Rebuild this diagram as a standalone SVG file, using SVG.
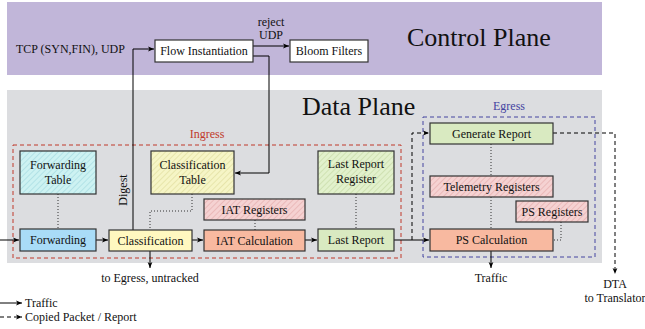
<svg xmlns="http://www.w3.org/2000/svg" width="645" height="329" viewBox="0 0 645 329">
<style>
text{font-family:"Liberation Serif","Times New Roman",serif;fill:#111}
.lbl{font-size:12px;text-anchor:middle}
.big{font-size:26px}
.box{stroke:#333;stroke-width:1.2}
.c{fill:none;stroke:#000;stroke-width:1}
.d{fill:none;stroke:#000;stroke-width:1;stroke-dasharray:4,3}
.dot{fill:none;stroke:#333;stroke-width:1;stroke-dasharray:1,2}
</style>
<defs>
<marker id="ah" viewBox="0 0 6 6" refX="6" refY="3" markerWidth="6" markerHeight="6" orient="auto" markerUnits="userSpaceOnUse"><path d="M0,0.6 L6,3 L0,5.4 L1.5,3 Z" fill="#000"/></marker>
<pattern id="hc" width="4" height="4" patternUnits="userSpaceOnUse" patternTransform="rotate(45)"><rect width="4" height="4" fill="#cdf2f2"/><line x1="0" y1="0" x2="0" y2="4" stroke="#a9dde3" stroke-width="1.5"/></pattern>
<pattern id="hy" width="4" height="4" patternUnits="userSpaceOnUse" patternTransform="rotate(45)"><rect width="4" height="4" fill="#f6f5c6"/><line x1="0" y1="0" x2="0" y2="4" stroke="#e2e0a2" stroke-width="1.5"/></pattern>
<pattern id="hr" width="4" height="4" patternUnits="userSpaceOnUse" patternTransform="rotate(45)"><rect width="4" height="4" fill="#f5d2d2"/><line x1="0" y1="0" x2="0" y2="4" stroke="#e7b1b1" stroke-width="1.5"/></pattern>
<pattern id="hg" width="4" height="4" patternUnits="userSpaceOnUse" patternTransform="rotate(45)"><rect width="4" height="4" fill="#e2f1cc"/><line x1="0" y1="0" x2="0" y2="4" stroke="#c9dca9" stroke-width="1.5"/></pattern>
</defs>

<g id="control-plane">
<rect x="7" y="2" width="595" height="73" fill="#c1b6d9"/>
<text class="big" x="407" y="46">Control Plane</text>
</g>
<g id="data-plane">
<rect x="7" y="90" width="595" height="173" fill="#dcdde0"/>
<text class="big" x="302" y="115">Data Plane</text>
</g>
<g id="ingress">
<rect x="13" y="145" width="388" height="113" fill="none" stroke="#c0392b" stroke-width="1" stroke-dasharray="4,3"/>
<text x="207" y="138" style="font-size:12px;text-anchor:middle;fill:#c0392b">Ingress</text>
</g>
<g id="egress">
<rect x="423" y="117" width="172" height="140" fill="none" stroke="#4444a0" stroke-width="1" stroke-dasharray="4,3"/>
<text x="509" y="110" style="font-size:12px;text-anchor:middle;fill:#4444a0">Egress</text>
</g>

<g id="connectors">
<!-- control -->
<path class="c" d="M133,230 V49 H154" marker-end="url(#ah)"/>
<path class="c" d="M253,46 H289" marker-end="url(#ah)"/>
<path class="c" d="M253,56 H269 V173 H235" marker-end="url(#ah)"/>
<!-- traffic -->
<path class="c" d="M0,240 H19" marker-end="url(#ah)"/>
<path class="c" d="M96,240 H108" marker-end="url(#ah)"/>
<path class="c" d="M192,240 H203" marker-end="url(#ah)"/>
<path class="c" d="M305,240 H317" marker-end="url(#ah)"/>
<path class="c" d="M394,240 H429" marker-end="url(#ah)"/>
<path class="c" d="M150,251 V268" marker-end="url(#ah)"/>
<path class="c" d="M491,251 V268" marker-end="url(#ah)"/>
<!-- copied -->
<path class="d" d="M412,240 V133 H429" marker-end="url(#ah)"/>
<path class="d" d="M553,133 H615 V274" marker-end="url(#ah)"/>
<!-- dotted -->
<path class="dot" d="M58,194 V229"/>
<path class="dot" d="M192,194 V211 H150 V230"/>
<path class="dot" d="M255,220 V230"/>
<path class="dot" d="M356,194 V229"/>
<path class="dot" d="M491,144 V176"/>
<path class="dot" d="M491,197 V229"/>
<path class="dot" d="M561,222 V240 H553"/>
<!-- legend -->
<path class="c" d="M0,303 H22" marker-end="url(#ah)"/>
<path class="d" d="M0,317 H22" marker-end="url(#ah)"/>
</g>

<g id="flow-inst"><rect class="box" x="155" y="40" width="98" height="22" fill="#fff"/><text class="lbl" x="204" y="55">Flow Instantiation</text></g>
<g id="bloom"><rect class="box" x="290" y="40" width="78" height="22" fill="#fff"/><text class="lbl" x="329" y="55">Bloom Filters</text></g>

<g id="fwd-table"><rect class="box" x="20" y="151" width="76" height="43" fill="url(#hc)"/><text class="lbl" x="58" y="169">Forwarding</text><text class="lbl" x="58" y="184">Table</text></g>
<g id="fwd"><rect class="box" x="20" y="229" width="76" height="22" fill="#a9dcf7"/><text class="lbl" x="58" y="244">Forwarding</text></g>
<g id="cls-table"><rect class="box" x="151" y="151" width="83" height="43" fill="url(#hy)"/><text class="lbl" x="192.5" y="169">Classification</text><text class="lbl" x="192.5" y="184">Table</text></g>
<g id="cls"><rect class="box" x="109" y="230" width="83" height="21" fill="#fff8c0"/><text class="lbl" x="150.5" y="245">Classification</text></g>
<g id="iat-reg"><rect class="box" x="204" y="199" width="101" height="21" fill="url(#hr)"/><text class="lbl" x="254.5" y="214">IAT Registers</text></g>
<g id="iat-calc"><rect class="box" x="204" y="230" width="101" height="21" fill="#f8b9a0"/><text class="lbl" x="254.5" y="245">IAT Calculation</text></g>
<g id="lr-reg"><rect class="box" x="318" y="151" width="76" height="43" fill="url(#hg)"/><text class="lbl" x="356" y="168">Last Report</text><text class="lbl" x="356" y="183">Register</text></g>
<g id="lr"><rect class="box" x="318" y="229" width="76" height="22" fill="#d9eac1"/><text class="lbl" x="356" y="244">Last Report</text></g>
<g id="gen-report"><rect class="box" x="430" y="123" width="123" height="21" fill="#d9eac1"/><text class="lbl" x="491.5" y="138">Generate Report</text></g>
<g id="tel-reg"><rect class="box" x="430" y="176" width="123" height="21" fill="url(#hr)"/><text class="lbl" x="491.5" y="191">Telemetry Registers</text></g>
<g id="ps-reg"><rect class="box" x="516" y="201" width="72" height="21" fill="url(#hr)"/><text class="lbl" x="552" y="216">PS Registers</text></g>
<g id="ps-calc"><rect class="box" x="430" y="229" width="123" height="22" fill="#f8b9a0"/><text class="lbl" x="491.5" y="244">PS Calculation</text></g>

<g id="labels">
<text x="16" y="53" style="font-size:12px">TCP (SYN,FIN), UDP</text>
<text class="lbl" x="271" y="26">reject</text>
<text class="lbl" x="271" y="39">UDP</text>
<text class="lbl" transform="translate(127,190) rotate(-90)">Digest</text>
<text class="lbl" x="150" y="282">to Egress, untracked</text>
<text class="lbl" x="491" y="282">Traffic</text>
<text class="lbl" x="615" y="288">DTA</text>
<text class="lbl" x="615" y="302">to Translator</text>
<text x="25" y="307" style="font-size:12px">Traffic</text>
<text x="25" y="321" style="font-size:12px">Copied Packet / Report</text>
</g>
</svg>
